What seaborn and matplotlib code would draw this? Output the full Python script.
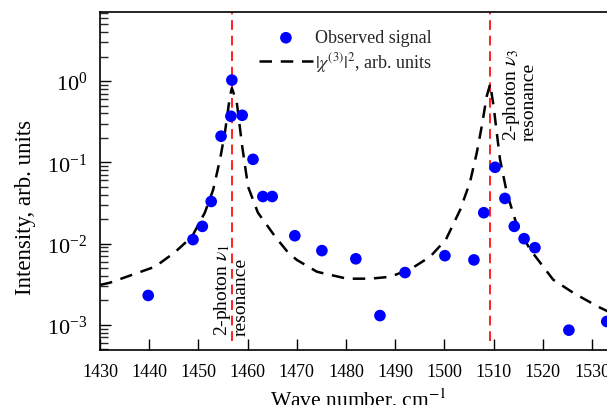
import numpy as np
import pandas as pd
import matplotlib
matplotlib.use("Agg")
import matplotlib.pyplot as plt
import matplotlib.ticker as mticker
import seaborn as sns

# Observed signal
obs_x = [1439.8, 1448.9, 1450.8, 1452.6, 1454.6, 1456.8, 1456.6, 1458.9, 1461.1,
         1463.1, 1465.0, 1469.6, 1475.1, 1482.0, 1486.9, 1492.0, 1500.1, 1506.0,
         1508.0, 1510.3, 1512.3, 1514.2, 1516.2, 1518.4, 1525.3, 1533.0]
obs_y = [0.0023, 0.0112, 0.0163, 0.033, 0.21, 1.03, 0.37, 0.38, 0.109,
         0.038, 0.038, 0.0125, 0.0082, 0.0065, 0.0013, 0.0044, 0.0071, 0.0063,
         0.024, 0.087, 0.036, 0.0163, 0.0115, 0.0089, 0.00086, 0.0011]

# |chi(3)|^2 model curve
chi_x = [1430.0, 1432.0, 1441.2, 1445.2, 1448.7, 1451.3, 1453.0, 1454.4, 1455.4,
         1456.4, 1456.8, 1457.8, 1458.9, 1460.1, 1462.1, 1465.6, 1468.2, 1470.0,
         1474.1, 1480.2, 1484.9, 1488.9, 1493.0, 1497.1, 1500.3, 1503.2, 1505.2,
         1506.6, 1507.6, 1508.6, 1509.3, 1510.0, 1511.3, 1512.7, 1514.8, 1517.4,
         1522.1, 1526.1, 1531.0, 1535.0]
chi_y = [0.0031, 0.0033, 0.0052, 0.0078, 0.0122, 0.024, 0.046, 0.109, 0.235,
         0.65, 0.82, 0.55, 0.158, 0.05, 0.024, 0.0122, 0.0078, 0.0063,
         0.0045, 0.0037, 0.0037, 0.0039, 0.0048, 0.0069, 0.0112, 0.026, 0.057,
         0.133, 0.28, 0.65, 0.92, 0.49, 0.109, 0.042, 0.0163, 0.0085,
         0.0036, 0.0025, 0.0017, 0.0013]

resonances = [1456.8, 1509.3]
res_labels = ["2-photon $\\nu_1$\nresonance", "2-photon $\\nu_3$\nresonance"]
res_text_x = [1456.6, 1515.2]
res_text_y = [0.00075, 0.19]

xticks = [1430, 1440, 1450, 1460, 1470, 1480, 1490, 1500, 1510, 1520, 1530]

sns.set_theme(style="ticks")
plt.rcParams['font.family'] = ['Liberation Serif', 'DejaVu Serif']
plt.rcParams['mathtext.fontset'] = 'stix'

fig = plt.figure(figsize=(6.07, 4.06), dpi=100)
ax = fig.add_axes([100/607, 55/406, 516.6/607, 338/406])

df_obs = pd.DataFrame({"x": obs_x, "y": obs_y})
df_chi = pd.DataFrame({"x": chi_x, "y": chi_y})

for xr in resonances:
    ax.axvline(xr, ymin=0.027, ymax=1, color='#ff2020', lw=1.4, dashes=(5, 3), zorder=1)

sns.lineplot(data=df_chi, x="x", y="y", ax=ax, color='black', lw=1.8,
             dashes=False, estimator=None, sort=False, zorder=2,
             label="$|\\chi^{(3)}|^2$, arb. units")
ax.lines[-1].set_dashes((5, 3.5))
sns.scatterplot(data=df_obs, x="x", y="y", ax=ax, color='#0000ff', s=70,
                edgecolor='none', zorder=3, label="Observed signal")

ax.set_yscale('log')
ax.set_xlim(1430, 1535)
ax.set_ylim(4.9e-4, 7.1)
ax.set_xticks(xticks)
ax.yaxis.set_major_locator(mticker.LogLocator(base=10, numticks=10))
ax.yaxis.set_minor_locator(mticker.LogLocator(base=10, subs=np.arange(2, 10), numticks=20))
ax.yaxis.set_minor_formatter(mticker.NullFormatter())

ax.tick_params(axis='both', which='major', direction='in', length=8, width=1,
               top=False, right=False, color='black', labelcolor='black')
ax.tick_params(axis='x', which='major', labelsize=13, pad=9.5)
ax.tick_params(axis='y', which='major', labelsize=16, pad=9)
ax.tick_params(axis='y', which='minor', direction='in', length=6, width=1, right=False)

for sp in ['left', 'bottom', 'top']:
    ax.spines[sp].set_linewidth(1.2)
    ax.spines[sp].set_color('black')
ax.spines['right'].set_visible(False)

ax.set_xlabel("Wave number, cm$^{-1}$", fontsize=15.5, color='black', labelpad=4)
ax.set_ylabel("Intensity, arb. units", fontsize=16.5, color='black')
ax.yaxis.set_label_coords(-0.124, 0.426)

for tx, ty, lab in zip(res_text_x, res_text_y, res_labels):
    ax.text(tx, ty, lab, rotation=90, ha='center', va='bottom',
            multialignment='left', fontsize=14, color='black', linespacing=0.95)

h, l = ax.get_legend_handles_labels()
order = [1, 0]
leg = ax.legend([h[i] for i in order], [l[i] for i in order], loc='upper left',
                bbox_to_anchor=(0.29, 0.975), frameon=False, fontsize=13,
                handlelength=3.0, handletextpad=0.1, labelspacing=0.2, borderpad=0)

fig.savefig("out.png", dpi=100)
